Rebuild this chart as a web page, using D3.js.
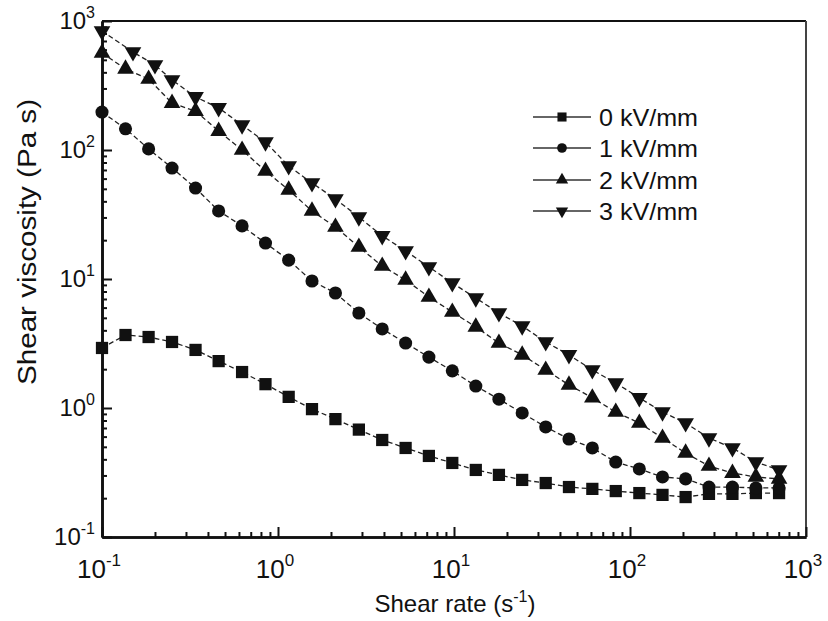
<!DOCTYPE html>
<html>
<head>
<meta charset="utf-8">
<script src="https://cdn.jsdelivr.net/npm/d3@7"></script>
<style>
  body { margin: 0; background: #fff; }
  text { font-family: 'Liberation Sans', Arial, sans-serif; fill: #111; }
</style>
</head>
<body>
<div id="chart"></div>
<script>
// Shear rate (s-1), shared by most series
const shearRate = [0.1, 0.136, 0.184, 0.25, 0.34, 0.46, 0.625, 0.849, 1.15, 1.56,
  2.12, 2.88, 3.91, 5.31, 7.2, 9.78, 13.3, 18.0, 24.4, 33.2,
  45.0, 61.1, 83.0, 113, 153, 207, 281, 382, 519, 703]
// 3 kV/mm was sampled a little differently at the start
const shearRate3 = [0.1, 0.15, 0.2, 0.25, 0.34, 0.46, 0.625, 0.849, 1.15, 1.56,
  2.12, 2.88, 3.91, 5.31, 7.2, 9.78, 13.3, 18.0, 24.4, 33.2,
  45.0, 61.1, 83.0, 113, 153, 207, 281, 382, 519, 703]

// Shear viscosity (Pa s)
const visc0kV = [2.92, 3.68, 3.55, 3.25, 2.82, 2.31, 1.9, 1.53, 1.22, 0.98,
  0.82, 0.68, 0.565, 0.49, 0.425, 0.375, 0.331, 0.303, 0.277, 0.262,
  0.244, 0.236, 0.227, 0.219, 0.212, 0.204, 0.216, 0.216, 0.219, 0.219]
const visc1kV = [197, 146, 102, 72.5, 50.7, 33.7, 25.8, 19.0, 14.0, 9.65,
  7.79, 5.45, 4.1, 3.19, 2.48, 1.94, 1.48, 1.17, 0.915, 0.713,
  0.575, 0.49, 0.381, 0.337, 0.292, 0.282, 0.244, 0.244, 0.24, 0.24]
const visc2kV = [565, 425, 355, 231, 200, 140, 100, 68.7, 49.0, 33.7,
  25.3, 17.7, 12.6, 9.83, 7.25, 5.55, 4.25, 3.19, 2.58, 1.97,
  1.51, 1.2, 0.93, 0.765, 0.585, 0.448, 0.355, 0.313, 0.292, 0.282]
const visc3kV = [836, 575, 456, 349, 258, 212, 156, 115, 75.2, 55.5,
  41.7, 30.2, 21.6, 16.5, 12.4, 9.31, 7.12, 5.45, 4.32, 3.25,
  2.58, 1.97, 1.56, 1.2, 0.93, 0.765, 0.585, 0.49, 0.381, 0.331]

const seriesNames = ['0 kV/mm', '1 kV/mm', '2 kV/mm', '3 kV/mm']
const tickExponents = [-1, 0, 1, 2, 3]

const series = [
  { name: seriesNames[0], x: shearRate, y: visc0kV, symbol: d3.symbolSquare, size: 150, rot: 0 },
  { name: seriesNames[1], x: shearRate, y: visc1kV, symbol: d3.symbolCircle, size: 135, rot: 0 },
  { name: seriesNames[2], x: shearRate, y: visc2kV, symbol: d3.symbolTriangle, size: 120, rot: 0 },
  { name: seriesNames[3], x: shearRate3, y: visc3kV, symbol: d3.symbolTriangle, size: 120, rot: 180 }
]

const width = 828
const height = 621
const margin = { top: 21, right: 22, bottom: 84, left: 102 }

const svg = d3.select('#chart')
  .append('svg')
  .attr('width', width)
  .attr('height', height)

const xScale = d3.scaleLog()
  .domain([0.1, 1000])
  .range([margin.left, width - margin.right])

const yScale = d3.scaleLog()
  .domain([0.1, 1000])
  .range([height - margin.bottom, margin.top])

// minor ticks 2..9 in each decade
const minor = []
tickExponents.slice(0, -1).forEach(e => {
  for (let k = 2; k <= 9; k++) minor.push(k * Math.pow(10, e))
})
const major = tickExponents.map(e => Math.pow(10, e))

const bottomY = height - margin.bottom

// frame (top and right thinner)
svg.append('line')
  .attr('x1', margin.left).attr('x2', width - margin.right)
  .attr('y1', margin.top).attr('y2', margin.top)
  .attr('stroke', '#111').attr('stroke-width', 2)
svg.append('line')
  .attr('x1', width - margin.right).attr('x2', width - margin.right)
  .attr('y1', margin.top).attr('y2', bottomY)
  .attr('stroke', '#444').attr('stroke-width', 2)

// axes with inward ticks
const xAxisMajor = d3.axisBottom(xScale).tickValues(major).tickSizeInner(-10).tickSizeOuter(0).tickFormat('')
const xAxisMinor = d3.axisBottom(xScale).tickValues(minor).tickSizeInner(-5).tickSizeOuter(0).tickFormat('')
const yAxisMajor = d3.axisLeft(yScale).tickValues(major).tickSizeInner(-10).tickSizeOuter(0).tickFormat('')
const yAxisMinor = d3.axisLeft(yScale).tickValues(minor).tickSizeInner(-5).tickSizeOuter(0).tickFormat('')

function styleAxis(g) {
  g.select('.domain').attr('stroke', '#111').attr('stroke-width', 2.6)
  g.selectAll('.tick line').attr('stroke', '#111').attr('stroke-width', 2)
}

svg.append('g').attr('transform', `translate(0,${bottomY})`).call(xAxisMinor).call(styleAxis)
svg.append('g').attr('transform', `translate(0,${bottomY})`).call(xAxisMajor).call(styleAxis)
svg.append('g').attr('transform', `translate(${margin.left},0)`).call(yAxisMinor).call(styleAxis)
svg.append('g').attr('transform', `translate(${margin.left},0)`).call(yAxisMajor).call(styleAxis)

// tick labels 10^n
function powLabel(sel, e, big) {
  sel.append('tspan').text('10')
  sel.append('tspan').text(e).attr('dy', big ? -12 : -11).attr('font-size', big ? 17 : 16)
}

tickExponents.forEach(e => {
  svg.append('text')
    .attr('x', xScale(Math.pow(10, e)) - 3)
    .attr('y', bottomY + 41)
    .attr('text-anchor', 'middle')
    .attr('font-size', 26)
    .call(powLabel, e, true)

  svg.append('text')
    .attr('x', 95)
    .attr('y', yScale(Math.pow(10, e)) + 8)
    .attr('text-anchor', 'end')
    .attr('font-size', 24)
    .call(powLabel, e, false)
})

// axis titles
const xTitle = svg.append('text')
  .attr('x', 455)
  .attr('y', 612)
  .attr('text-anchor', 'middle')
  .attr('font-size', 24)
xTitle.append('tspan').text('Shear rate (s')
xTitle.append('tspan').text('-1').attr('dy', -10).attr('font-size', 16)
xTitle.append('tspan').text(')').attr('dy', 10)

svg.append('text')
  .attr('transform', 'translate(36,242) rotate(-90)')
  .attr('text-anchor', 'middle')
  .attr('font-size', 26)
  .attr('textLength', 286)
  .attr('lengthAdjust', 'spacingAndGlyphs')
  .text('Shear viscosity (Pa s)')

// lines
const line = d3.line()
  .x(d => xScale(d[0]))
  .y(d => yScale(d[1]))

const plot = svg.append('g')

series.forEach(s => {
  const pts = s.x.map((x, i) => [x, s.y[i]])
  plot.append('path')
    .datum(pts)
    .attr('d', line)
    .attr('fill', 'none')
    .attr('stroke', '#222')
    .attr('stroke-width', 1.3)
    .attr('stroke-dasharray', '5,3')
})

series.forEach(s => {
  const pts = s.x.map((x, i) => [x, s.y[i]])
  plot.selectAll(null)
    .data(pts)
    .enter()
    .append('path')
    .attr('d', d3.symbol().type(s.symbol).size(s.size))
    .attr('transform', d => `translate(${xScale(d[0])},${yScale(d[1])}) rotate(${s.rot})`)
    .attr('fill', '#111')
})

// legend
const legend = svg.append('g').attr('id', 'legend')
const legendY = [117, 148, 180, 211]
series.forEach((s, i) => {
  const y = legendY[i]
  legend.append('line')
    .attr('x1', 533).attr('x2', 591)
    .attr('y1', y).attr('y2', y)
    .attr('stroke', '#333').attr('stroke-width', 1.3)
  legend.append('path')
    .attr('d', d3.symbol().type(s.symbol).size(s.size * 0.55))
    .attr('transform', `translate(562,${y}) rotate(${s.rot})`)
    .attr('fill', '#111')
  legend.append('text')
    .attr('x', 599)
    .attr('y', y + 9)
    .attr('font-size', 24)
    .attr('textLength', 99)
    .attr('lengthAdjust', 'spacingAndGlyphs')
    .text(s.name)
})
</script>
</body>
</html>
